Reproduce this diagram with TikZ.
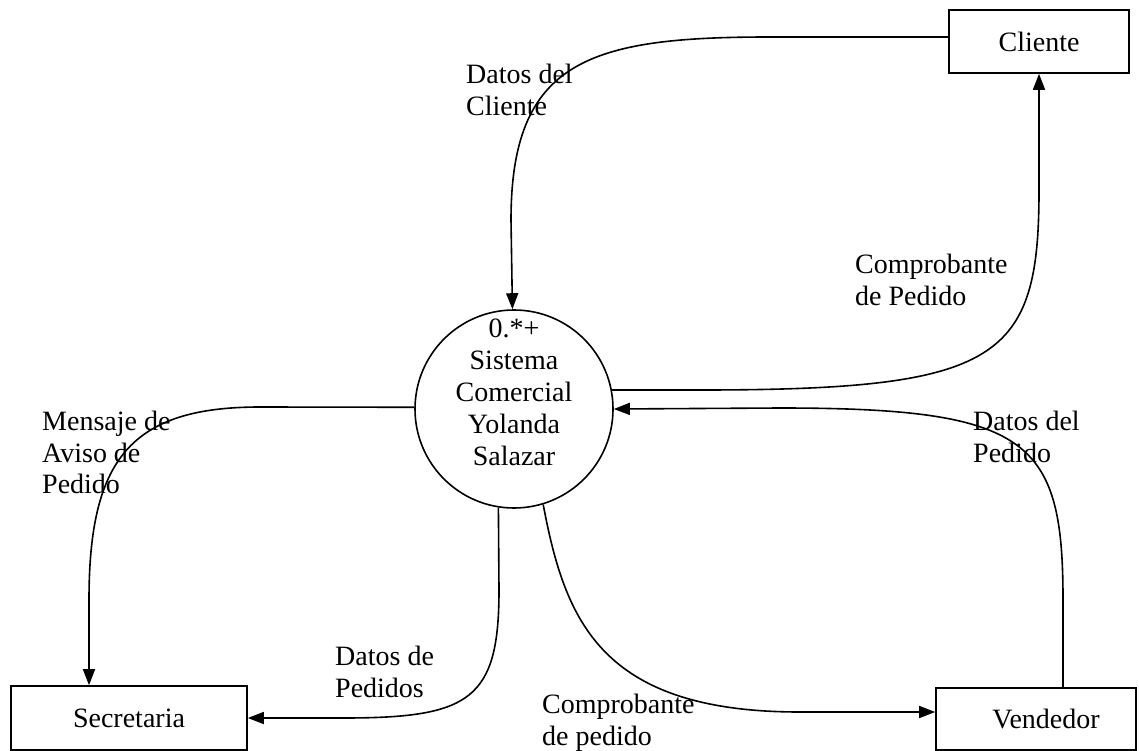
\documentclass[tikz,border=0pt]{standalone}
\usepackage{fontspec}
\setmainfont{Liberation Serif}
\usepackage{tikz}
\usetikzlibrary{arrows.meta}
\tikzset{
    texto/.style={font=\fontsize{28}{31.5}\selectfont},
    entidad/.style={texto, draw, line width=1.6pt, rectangle, inner sep=0pt},
    proceso/.style={draw, line width=1.6pt, circle, inner sep=0pt, minimum size=198pt},
    etiqueta/.style={texto, anchor=north west, align=left, inner sep=0pt},
    flujo/.style={line width=1.6pt, -{Triangle[length=16pt,width=12pt]}},
}

\begin{document}
\begin{tikzpicture}[x=1pt, y=-1pt]
\useasboundingbox (0,0) rectangle (1139,751);

\node[entidad, minimum width=180pt, minimum height=63pt] (cli) at (1039,41.5) {Cliente};
\node[entidad, minimum width=236pt, minimum height=64pt] (sec) at (129,718) {Secretaria};
\node[entidad, minimum width=200pt, minimum height=62pt] (ven) at (1036,719) {\hspace*{20pt}Vendedor};
\node[proceso] (sis) at (514,409) {};
\node[texto, align=center, font=\fontsize{28}{32}\selectfont, inner sep=0pt] (sistxt) at ([yshift=16.5pt]sis.center) {0.*+\\Sistema\\Comercial\\Yolanda\\Salazar};

\draw[flujo] ([yshift=4.5pt]cli.west) -- (770,37) .. controls (590,37) and (511,60) .. (511,220) -- (sis);
\draw[flujo] (sis.11) -- (700,390) .. controls (1000,390) and (1039,360) .. (1039,190) -- (cli.south);
\draw[flujo] ([xshift=27pt]ven.north) -- (1063,600) .. controls (1063,440) and (1030,408) .. (780,408) -- (sis.east);
\draw[flujo] (sis.179) -- (260,407) .. controls (130,407) and (89,460) .. (89,600) -- ([xshift=-40pt]sec.north);
\draw[flujo] (sis.-99) -- (499,590) .. controls (499,700) and (470,718) .. (343,718) -- (sec.east);
\draw[flujo] (sis.-73) .. controls (565,620) and (600,712) .. (800,712) -- ([yshift=7pt]ven.west);

\node[etiqueta] (dcli) at (466,64) {Datos del\\Cliente};
\node[etiqueta] (cped) at (855,254) {Comprobante\\de Pedido};
\node[etiqueta] (dped) at (973,411) {Datos del\\Pedido};
\node[etiqueta] (maviso) at (42,411) {Mensaje de\\Aviso de\\Pedido};
\node[etiqueta] (dpeds) at (335,646) {Datos de\\Pedidos};
\node[etiqueta] (cpedv) at (542,694) {Comprobante\\de pedido};
\end{tikzpicture}
\end{document}
